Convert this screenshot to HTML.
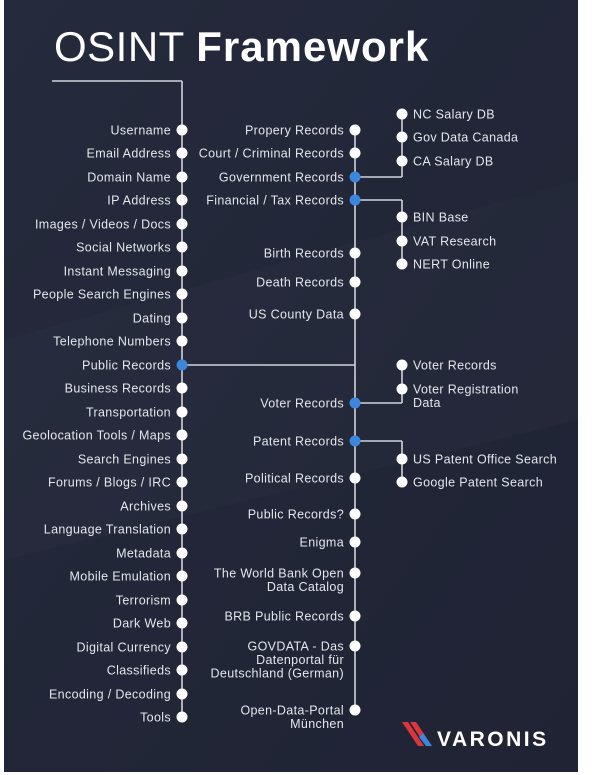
<!DOCTYPE html>
<html><head><meta charset="utf-8"><style>
html,body{margin:0;padding:0;background:#fff;width:594px;height:775px;overflow:hidden}
svg{display:block}
text{font-family:"Liberation Sans",sans-serif;fill:#e4e6ec;font-size:12.5px;letter-spacing:0.35px}
</style></head><body>
<svg id="c" width="594" height="775">
<defs><linearGradient id="bg" x1="0" y1="0" x2="1" y2="1">
<stop offset="0" stop-color="#252a3c"/><stop offset="1" stop-color="#1f2334"/></linearGradient></defs>
<rect x="4" y="0" width="574" height="772" fill="url(#bg)"/>
<polygon points="4,340 578,180 578,420 4,560" fill="#ffffff" opacity="0.015"/>
<text x="54" y="61" style="font-size:42px;font-weight:300;fill:#fff;letter-spacing:0.5px">OSINT <tspan style="font-weight:bold;letter-spacing:1px">Framework</tspan></text>
<g id="links"></g><g id="nodes"></g>
<g>
<polygon points="402,722 408,722 424,746 418,746" fill="#d9363e"/>
<polygon points="410,722 416,722 432,746 426,746" fill="#d9363e"/>
<polygon points="419,737 423,733 432,746 426,746" fill="#3a86e0"/>
<text x="437" y="746" style="font-size:21px;font-weight:bold;fill:#fff;letter-spacing:2.5px">VARONIS</text>
</g>
</svg>
<script>
const leftLabels=["Username","Email Address","Domain Name","IP Address","Images / Videos / Docs","Social Networks","Instant Messaging","People Search Engines","Dating","Telephone Numbers","Public Records","Business Records","Transportation","Geolocation Tools / Maps","Search Engines","Forums / Blogs / IRC","Archives","Language Translation","Metadata","Mobile Emulation","Terrorism","Dark Web","Digital Currency","Classifieds","Encoding / Decoding","Tools"];
const leftY=[130,153,177,200,224,247,271,294,318,341,365,388,412,435,459,482,506,529,553,576,600,623,647,670,694,717];
const midLabels=[["Propery Records"],["Court / Criminal Records"],["Government Records"],["Financial / Tax Records"],["Birth Records"],["Death Records"],["US County Data"],["Voter Records"],["Patent Records"],["Political Records"],["Public Records?"],["Enigma"],["The World Bank Open","Data Catalog"],["BRB Public Records"],["GOVDATA - Das","Datenportal für","Deutschland (German)"],["Open-Data-Portal","München"]];
const midY=[130,153,177,200,253,282,314,403,441,478,514,542,573,616,646,710];
const subGroups=[
 {parent:2,labels:[["NC Salary DB"],["Gov Data Canada"],["CA Salary DB"]],y:[114,137,161]},
 {parent:3,labels:[["BIN Base"],["VAT Research"],["NERT Online"]],y:[217,241,264]},
 {parent:7,labels:[["Voter Records"],["Voter Registration","Data"]],y:[365,389]},
 {parent:8,labels:[["US Patent Office Search"],["Google Patent Search"]],y:[459,482]}];
const X1=182,X2=355,X3=402,BLUE="#3c86dc",LINE="#cfd3dc";
const NS="http://www.w3.org/2000/svg";
const L=document.getElementById('links'),N=document.getElementById('nodes');
function line(x1,y1,x2,y2){const e=document.createElementNS(NS,'polyline');e.setAttribute('points',[x1,y1,x2,y2].join(' '));e.setAttribute('fill','none');e.setAttribute('stroke',LINE);e.setAttribute('stroke-width','1.6');


L.appendChild(e);}
function node(x,y,lines,blue,right,name){const g=document.createElementNS(NS,'g');


const c=document.createElementNS(NS,'circle');c.setAttribute('cx',x);c.setAttribute('cy',y);c.setAttribute('r',5.5);c.setAttribute('fill',blue?BLUE:'#fff');g.appendChild(c);
lines.forEach((s,i)=>{const t=document.createElementNS(NS,'text');t.textContent=s;t.setAttribute('y',y+4.5+i*13.5);
if(right){t.setAttribute('x',x+11);}else{t.setAttribute('x',x-11);t.setAttribute('text-anchor','end');}g.appendChild(t);});
N.appendChild(g);}
const slug=s=>s.toLowerCase().replace(/[^a-z0-9]+/g,'-').replace(/^-|-$/g,'');
line(52,81,X1,81);line(X1,81,X1,leftY[leftY.length-1]);
const pubIdx=leftLabels.indexOf("Public Records");
line(X1,leftY[pubIdx],X2,leftY[pubIdx]);
line(X2,midY[0],X2,midY[midY.length-1]);
subGroups.forEach(g=>{const py=midY[g.parent];line(X2,py,X3,py);
const ys=g.y.concat([py]);line(X3,Math.min(...ys),X3,Math.max(...ys));});
leftLabels.forEach((s,i)=>node(X1,leftY[i],[s],i===pubIdx,false,'node-'+slug(s)));
midLabels.forEach((s,i)=>node(X2,midY[i],s,subGroups.some(g=>g.parent===i),false,'node-'+slug(s.join(' '))));
subGroups.forEach(g=>g.labels.forEach((s,i)=>node(X3,g.y[i],s,false,true,'node-'+slug(s.join(' ')))));
</script>
</body></html>
